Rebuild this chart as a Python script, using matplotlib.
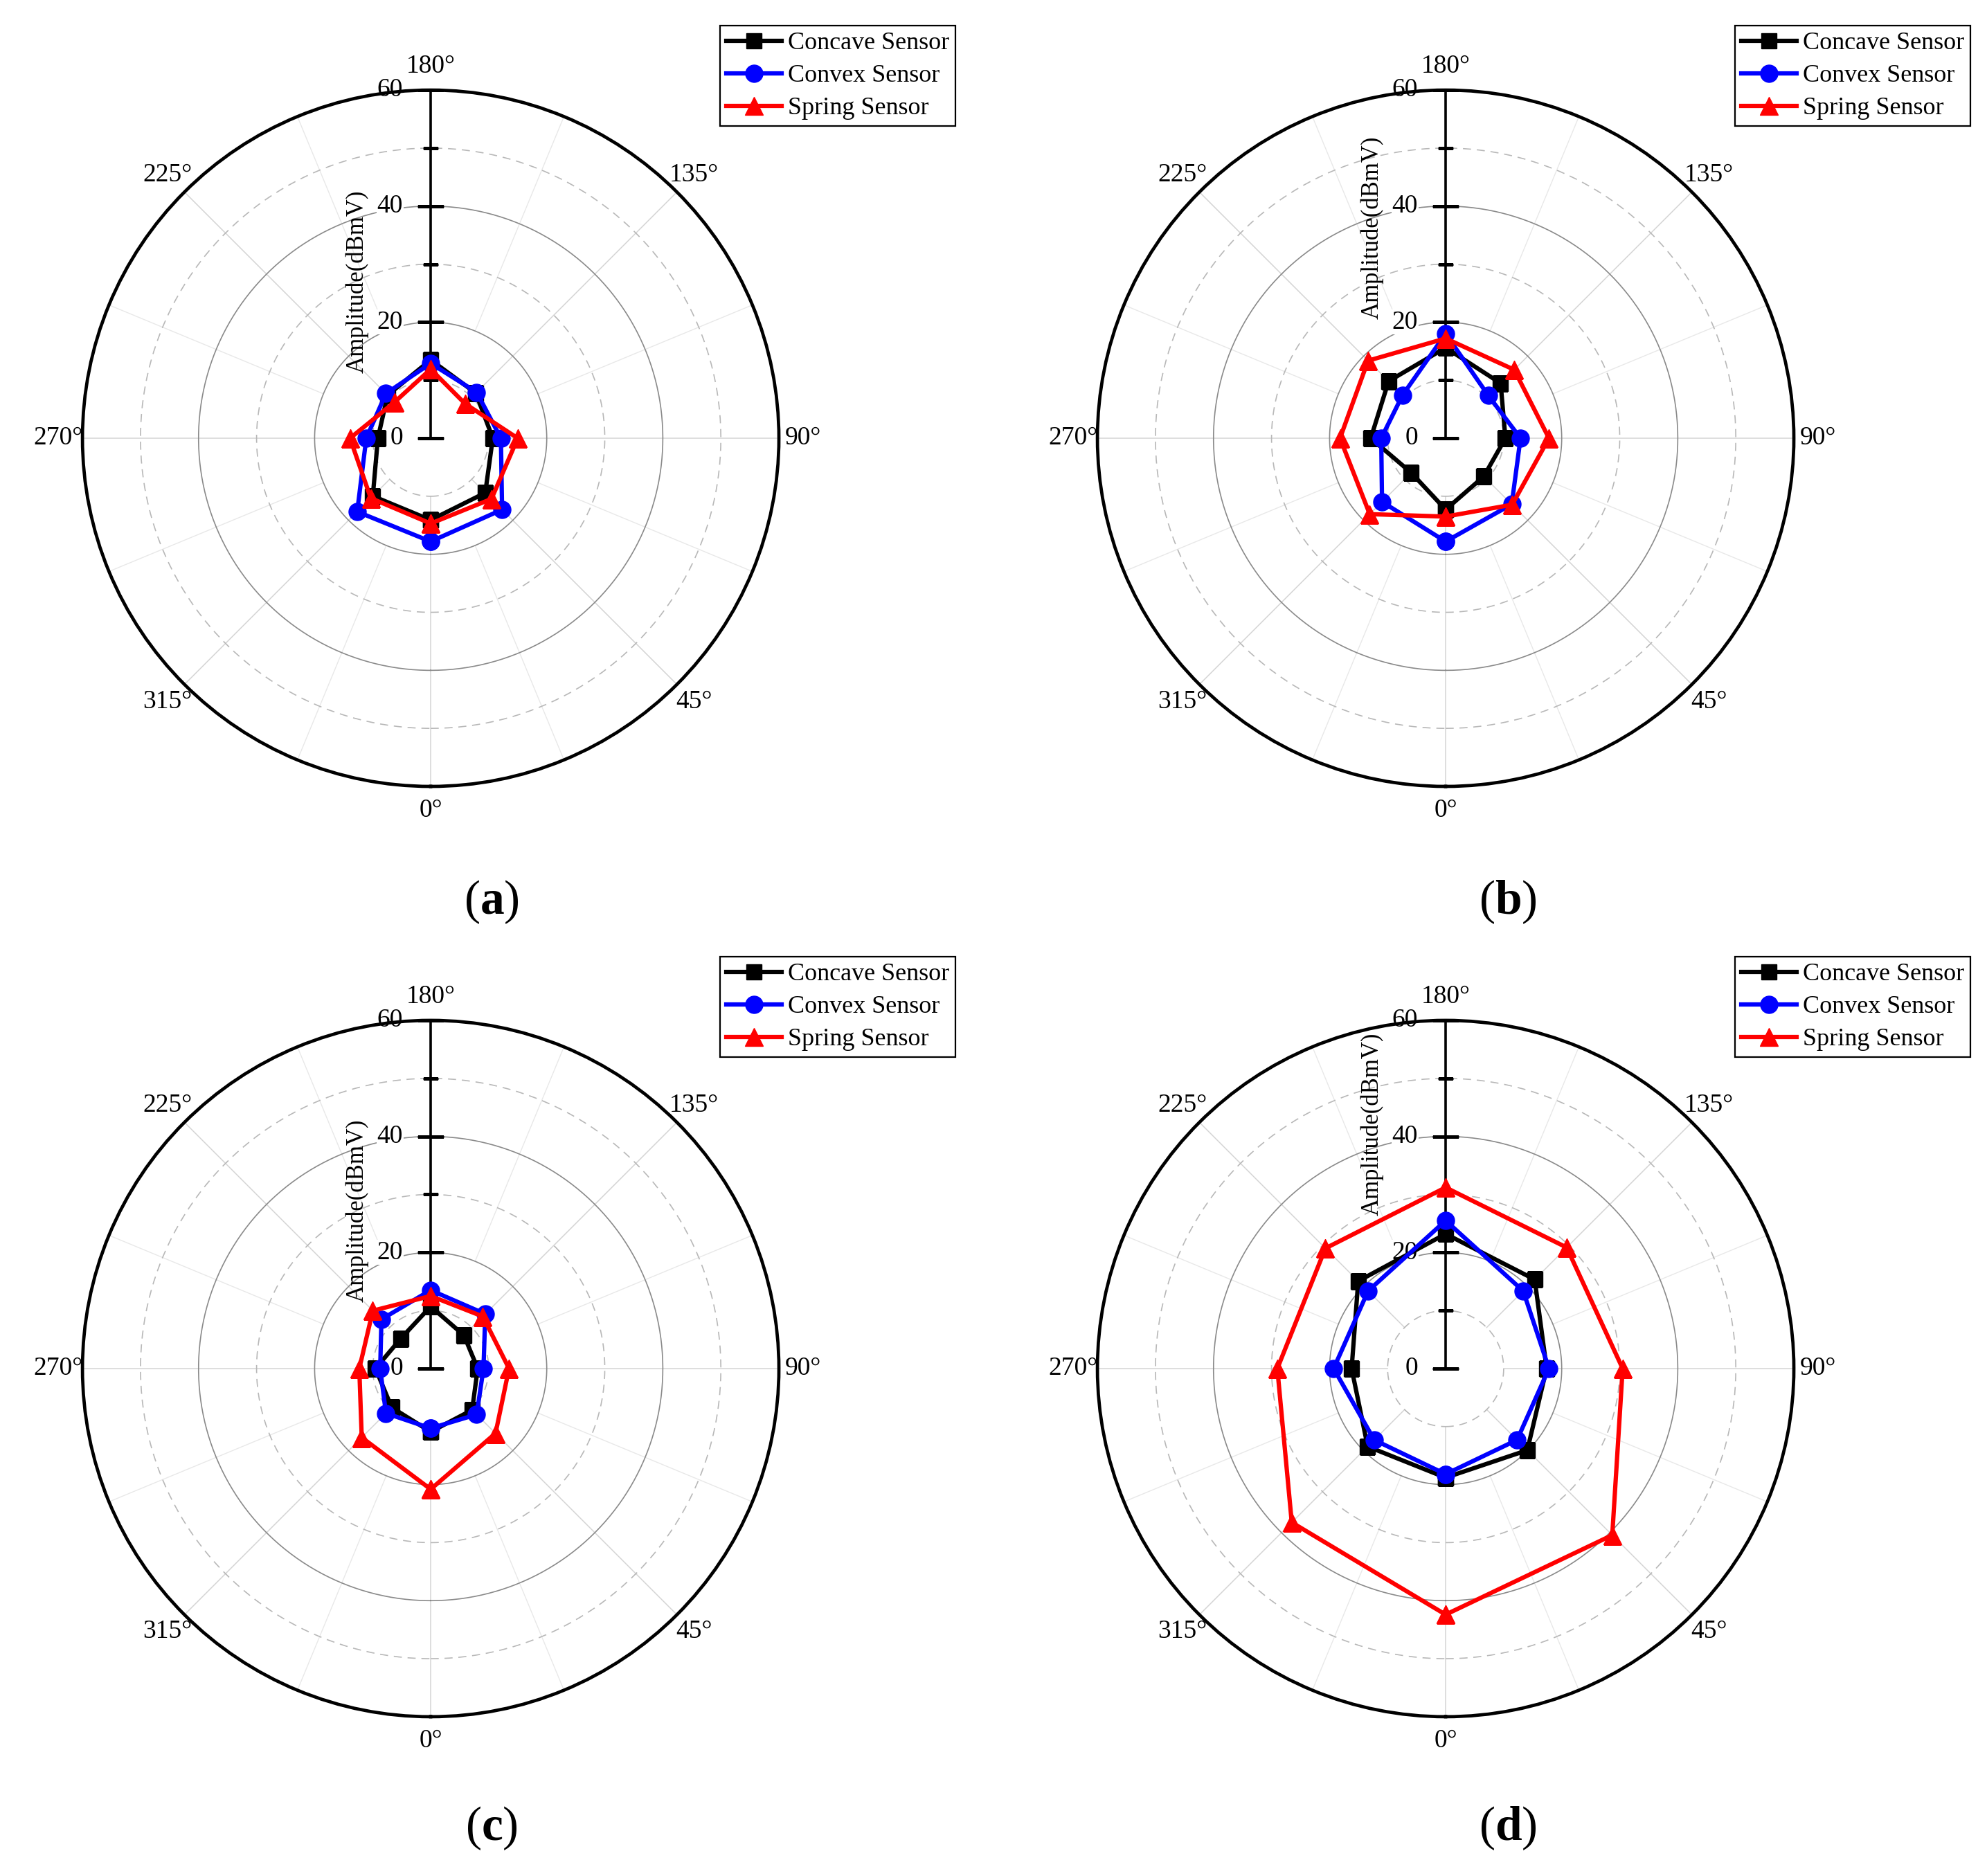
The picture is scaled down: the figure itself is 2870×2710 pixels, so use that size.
import numpy as np
import matplotlib
matplotlib.use('Agg')
import matplotlib.pyplot as plt
from matplotlib.ticker import FixedLocator

plt.rcParams['font.family'] = 'Liberation Serif'
plt.rcParams['mathtext.fontset'] = 'custom'
plt.rcParams['mathtext.rm'] = 'Liberation Serif'
plt.rcParams['mathtext.bf'] = 'Liberation Serif:bold'

# angles in degrees, values in dBmV (order: 0, 45, ..., 315)
angles = [0, 45, 90, 135, 180, 225, 270, 315]
angle_labels = ['0°', '45°', '90°', '135°', '180°', '225°', '270°', '315°']
r_ticks = [0, 20, 40, 60]
series_names = ['Concave Sensor', 'Convex Sensor', 'Spring Sensor']
panel_names = ['a', 'b', 'c', 'd']

a_concave = [14.1, 13.3, 10.7, 11.0, 13.5, 10.5, 9.1, 14.1]
a_convex = [17.8, 17.4, 12.1, 11.2, 12.9, 10.9, 11.1, 17.9]
a_spring = [14.7, 14.8, 15.0, 8.4, 11.9, 8.8, 13.9, 14.6]

b_concave = [12.3, 9.3, 10.3, 13.4, 15.6, 13.9, 12.9, 8.4]
b_convex = [17.8, 16.1, 12.9, 10.4, 18.0, 10.5, 11.1, 15.5]
b_spring = [13.5, 16.2, 17.8, 16.7, 17.2, 18.9, 18.2, 18.5]

c_concave = [10.9, 10.1, 8.1, 8.1, 10.7, 7.3, 9.5, 9.5]
c_convex = [10.3, 11.2, 9.1, 13.3, 13.5, 12.0, 8.7, 10.9]
c_spring = [20.8, 15.8, 13.5, 12.7, 12.5, 14.1, 12.3, 16.8]

d_concave = [18.8, 19.9, 17.4, 21.7, 23.2, 21.3, 16.2, 19.0]
d_convex = [18.2, 17.4, 17.8, 18.9, 25.5, 18.9, 19.3, 17.4]
d_spring = [42.4, 40.6, 30.5, 29.5, 31.2, 29.3, 29.0, 37.5]

panels = [
    [a_concave, a_convex, a_spring],
    [b_concave, b_convex, b_spring],
    [c_concave, c_convex, c_spring],
    [d_concave, d_convex, d_spring],
]

colors = ['black', 'blue', 'red']
markers = ['s', 'o', '^']
msizes = [16, 18, 19]

# layout (figure fractions)
ax_w = 0.3505
ax_h = 0.3712
ax_pos = [(0.0415, 0.5808), (0.5523, 0.5808), (0.0415, 0.0849), (0.5523, 0.0849)]
legend_pos = [(0.4808, 0.9863), (0.9916, 0.9863), (0.4808, 0.4900), (0.9916, 0.4900)]
letter_pos = [(0.2474, 0.5192), (0.7589, 0.5192), (0.2474, 0.0255), (0.7589, 0.0255)]
ylabel_y = [0.725, 0.802, 0.727, 0.851]

fig = plt.figure(figsize=(28.7, 27.1), dpi=100)

for i in range(4):
    ax = fig.add_axes([ax_pos[i][0], ax_pos[i][1], ax_w, ax_h], projection='polar')
    ax.set_theta_zero_location('S')
    ax.set_theta_direction(1)
    ax.set_ylim(0, 60)
    ax.set_yticks([])
    ax.grid(False)

    # theta ticks on the outer circle
    ax.set_xticks(np.deg2rad(angles))
    ax.set_xticklabels(angle_labels, fontsize=27)
    ax.xaxis.set_minor_locator(FixedLocator(np.deg2rad(np.arange(22.5, 360, 45))))
    ax.tick_params(axis='x', which='major', direction='in', length=15, width=2.4, pad=18)
    ax.tick_params(axis='x', which='minor', direction='in', length=8, width=1.8)
    ax.spines['polar'].set_linewidth(3.4)
    ax.spines['polar'].set_color('black')

    # grid: radial spokes and circles
    for a in np.arange(0, 360, 22.5):
        if a % 45 == 0:
            ax.plot([np.deg2rad(a)] * 2, [10, 60], color='#d4d4d4', lw=1.1, zorder=1)
        else:
            ax.plot([np.deg2rad(a)] * 2, [20, 60], color='#e8e8e8', lw=1.0, zorder=1)
    circ = np.linspace(0, 2 * np.pi, 400)
    for rr in [20, 40]:
        ax.plot(circ, [rr] * len(circ), color='#8a8a8a', lw=1.2, zorder=1)
    for rr in [10, 30, 50]:
        ax.plot(circ, [rr] * len(circ), color='#b8b8b8', lw=1.2,
                dashes=(7, 5), zorder=1)

    # radial axis along 180 deg
    ax.plot([np.pi, np.pi], [0, 60], color='black', lw=2.6, zorder=2.6)
    for rr in [0, 20, 40, 60]:
        ax.plot(np.pi, rr, marker='_', markersize=27, mew=2.4, color='black', zorder=2.6)
    for rr in [10, 30, 50]:
        ax.plot(np.pi, rr, marker='_', markersize=16, mew=2.2, color='black', zorder=2.6)
    for rr in r_ticks:
        ax.annotate(str(rr), xy=(np.pi, rr), xytext=(-29, 0), textcoords='offset points',
                    ha='right', va='center', fontsize=27, zorder=2.5,
                    annotation_clip=False,
                    bbox=dict(facecolor='white', edgecolor='none', pad=0.5))
    ax.text(0.3945, ylabel_y[i], 'Amplitude(dBmV)', transform=ax.transAxes,
            rotation=90, ha='center', va='center', fontsize=25, zorder=2.5)

    # data
    theta = np.deg2rad(angles + [angles[0]])
    for k in range(3):
        vals = panels[i][k]
        ax.plot(theta, vals + [vals[0]], color=colors[k], marker=markers[k],
                lw=4.5, markersize=msizes[k], label=series_names[k], zorder=3 + k)

    leg = ax.legend(loc='upper right', bbox_to_anchor=legend_pos[i],
                    bbox_transform=fig.transFigure, borderaxespad=0, fontsize=26,
                    handlelength=2.2, handletextpad=0.25, labelspacing=0.38,
                    borderpad=0.25, fancybox=False, framealpha=1, edgecolor='black')
    leg.get_frame().set_linewidth(1.6)

    fig.text(letter_pos[i][0], letter_pos[i][1], r'($\mathbf{' + panel_names[i] + '}$)',
             ha='center', va='center', fontsize=50)

fig.savefig('out.png', dpi=100)
